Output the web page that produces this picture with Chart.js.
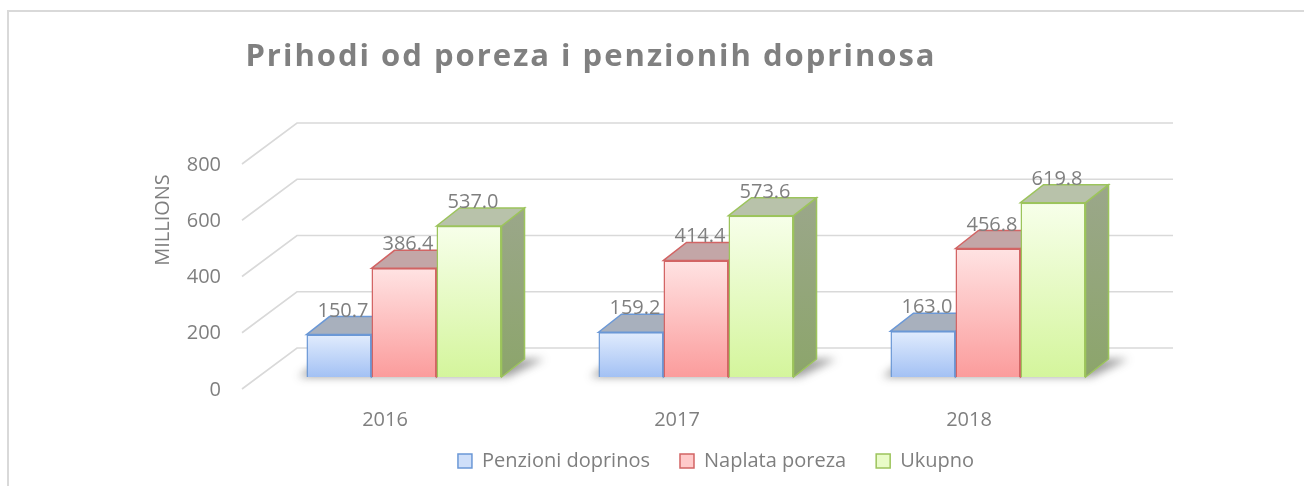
<!DOCTYPE html>
<html>
<head>
<meta charset="utf-8">
<title>Prihodi od poreza i penzionih doprinosa</title>
<script src="https://cdn.jsdelivr.net/npm/chart.js@4.4.1/dist/chart.umd.min.js"></script>
<style>
    html, body { margin: 0; padding: 0; overflow: hidden; background: #fff; }
    #frame { position: absolute; left: 7px; top: 10px; width: 2000px; height: 1000px;
             border-left: 2px solid #d9d9d9; border-top: 2px solid #d9d9d9; }
    #wrap { position: absolute; left: 0; top: 0; width: 1304px; height: 486px; }
</style>
</head>
<body>
<div id="frame"></div>
<div id="wrap"><canvas id="revenueChart" width="1304" height="486"></canvas></div>
<script>
// data (millions)
var years = ['2016', '2017', '2018'];
var seriesNames = ['Penzioni doprinos', 'Naplata poreza', 'Ukupno'];
var pensionValues = [150.7, 159.2, 163.0];
var taxValues = [386.4, 414.4, 456.8];
var totalValues = [537.0, 573.6, 619.8];
var yTicks = [0, 200, 400, 600, 800];

// colours: front gradient top/bottom, edge, top face, side face
var frontTop = ['#e1ecfd', '#ffe3e3', '#f7ffea'];
var frontBottom = ['#a3c1f4', '#fb9c9c', '#d4f59c'];
var edgeColors = ['#6b98d6', '#d26464', '#9cc45c'];
var topFaces = ['#a8b0bd', '#c3a6a7', '#b8c2aa'];
var sideTop = ['#9aa6b8', '#b79a9a', '#9ba78a'];
var sideBottom = ['#8098bd', '#b07a7a', '#8ca56b'];
var legendFill = ['#cfdff9', '#ffcaca', '#e9fbc8'];

var DX = 23, DY = 18;          // bar depth
var WALL_DX = 39, WALL_DY = 29; // back wall offset from bar plane
var FLOOR_DX = -16, FLOOR_DY = 12; // front edge of floor

Chart.defaults.font.family = "'Open Sans', sans-serif";
Chart.defaults.font.size = 20;
Chart.defaults.color = '#7f7f7f';

function frontFill(i) {
    return function (context) {
        var chart = context.chart;
        if (!chart.chartArea || context.raw == null) return frontBottom[i];
        var y = chart.scales.y;
        var g = chart.ctx.createLinearGradient(0, y.getPixelForValue(context.raw), 0, y.getPixelForValue(0));
        g.addColorStop(0, frontTop[i]);
        g.addColorStop(1, frontBottom[i]);
        return g;
    };
}

var depth3d = {
    id: 'depth3d',
    beforeDatasetsDraw: function (chart) {
        var c = chart.ctx, a = chart.chartArea, y = chart.scales.y;
        c.save();
        // back wall gridlines + left diagonals
        c.strokeStyle = '#d9d9d9';
        c.lineWidth = 1.6;
        yTicks.forEach(function (v) {
            var py = y.getPixelForValue(v);
            c.beginPath();
            c.moveTo(a.left + FLOOR_DX, py + FLOOR_DY);
            c.lineTo(a.left + WALL_DX, py - WALL_DY);
            c.lineTo(a.right + WALL_DX, py - WALL_DY);
            c.stroke();
        });
        // soft shadow under each group
        var first = chart.getDatasetMeta(0).data, last = chart.getDatasetMeta(chart.data.datasets.length - 1).data;
        c.filter = 'blur(4px)';
        c.fillStyle = 'rgba(40,40,40,0.45)';
        first.forEach(function (bar, k) {
            var l = bar.x - bar.width / 2 - 8, r = last[k].x + last[k].width / 2 + 6, b = bar.base;
            c.beginPath();
            c.moveTo(l, b);
            c.lineTo(r, b);
            c.lineTo(r + DX + 14, b - DY);
            c.lineTo(l + DX, b - DY);
            c.closePath();
            c.fill();
        });
        c.filter = 'none';
        // top and side faces, series order
        chart.data.datasets.forEach(function (ds, i) {
            chart.getDatasetMeta(i).data.forEach(function (bar) {
                var l = bar.x - bar.width / 2, r = bar.x + bar.width / 2, t = bar.y, b = bar.base;
                c.lineWidth = 1.5;
                c.strokeStyle = edgeColors[i];
                c.beginPath();
                c.moveTo(r, t);
                c.lineTo(r + DX, t - DY);
                c.lineTo(r + DX, b - DY);
                c.lineTo(r, b);
                c.closePath();
                var g = c.createLinearGradient(0, t - DY, 0, b);
                g.addColorStop(0, sideTop[i]);
                g.addColorStop(1, sideBottom[i]);
                c.fillStyle = g;
                c.fill();
                c.stroke();
                c.beginPath();
                c.moveTo(l, t);
                c.lineTo(l + DX, t - DY);
                c.lineTo(r + DX, t - DY);
                c.lineTo(r, t);
                c.closePath();
                c.fillStyle = topFaces[i];
                c.fill();
                c.stroke();
            });
        });
        c.restore();
    },
    afterDatasetsDraw: function (chart) {
        var c = chart.ctx;
        c.save();
        // value labels
        c.font = "20px 'Open Sans', sans-serif";
        c.fillStyle = '#7f7f7f';
        c.textAlign = 'center';
        c.textBaseline = 'alphabetic';
        chart.data.datasets.forEach(function (ds, i) {
            chart.getDatasetMeta(i).data.forEach(function (bar, k) {
                c.fillText(ds.data[k].toFixed(1), bar.x + 4, bar.y - DY);
            });
        });
        // title
        c.font = "bold 31px 'Open Sans', sans-serif";
        c.letterSpacing = '2px';
        c.fillStyle = '#808080';
        c.fillText('Prihodi od poreza i penzionih doprinosa', 591, 66);
        c.letterSpacing = '0px';
        // display units label
        c.translate(163, 220);
        c.rotate(-Math.PI / 2);
        c.font = "20px 'Open Sans', sans-serif";
        c.fillStyle = '#7f7f7f';
        c.textBaseline = 'middle';
        c.fillText('MILLIONS', 0, 0);
        c.restore();
    }
};

var ctx = document.getElementById('revenueChart');
var revenueChart = new Chart(ctx, {
    type: 'bar',
    data: {
        labels: years,
        datasets: [
            { label: seriesNames[0], data: pensionValues, backgroundColor: frontFill(0), borderColor: edgeColors[0], borderWidth: 1.5 },
            { label: seriesNames[1], data: taxValues, backgroundColor: frontFill(1), borderColor: edgeColors[1], borderWidth: 1.5 },
            { label: seriesNames[2], data: totalValues, backgroundColor: frontFill(2), borderColor: edgeColors[2], borderWidth: 1.5 }
        ]
    },
    options: {
        responsive: false,
        animation: false,
        categoryPercentage: 0.668,
        barPercentage: 1.0,
        layout: { padding: { left: 156, right: 28, top: 152, bottom: 5 } },
        scales: {
            x: {
                grid: { display: false, drawTicks: false, tickLength: 0 },
                border: { display: false },
                // mirrored (unclipped), negative padding pushes labels below the floor
                ticks: { mirror: true, padding: -55, labelOffset: -19, color: '#7f7f7f' },
                afterFit: function (s) { s.height = 44; }
            },
            y: {
                min: 0,
                max: 800,
                grid: { display: false, drawTicks: false, tickLength: 0 },
                border: { display: false },
                ticks: { stepSize: 200, padding: 37, labelOffset: 13, color: '#7f7f7f' },
                afterFit: function (s) { s.width = 102; }
            },
            yRight: {
                position: 'right',
                grid: { display: false, drawTicks: false },
                border: { display: false },
                ticks: { display: false },
                afterFit: function (s) { s.width = 142; }
            }
        },
        plugins: {
            title: { display: false },
            tooltip: { enabled: false },
            legend: {
                position: 'bottom',
                labels: {
                    boxWidth: 14,
                    boxHeight: 14,
                    padding: 30,
                    color: '#7f7f7f',
                    generateLabels: function (chart) {
                        return chart.data.datasets.map(function (ds, i) {
                            return { text: ds.label, fillStyle: legendFill[i], strokeStyle: edgeColors[i], lineWidth: 1.5, fontColor: '#7f7f7f', datasetIndex: i, hidden: false };
                        });
                    }
                }
            }
        }
    },
    plugins: [depth3d]
});
</script>
</body>
</html>
